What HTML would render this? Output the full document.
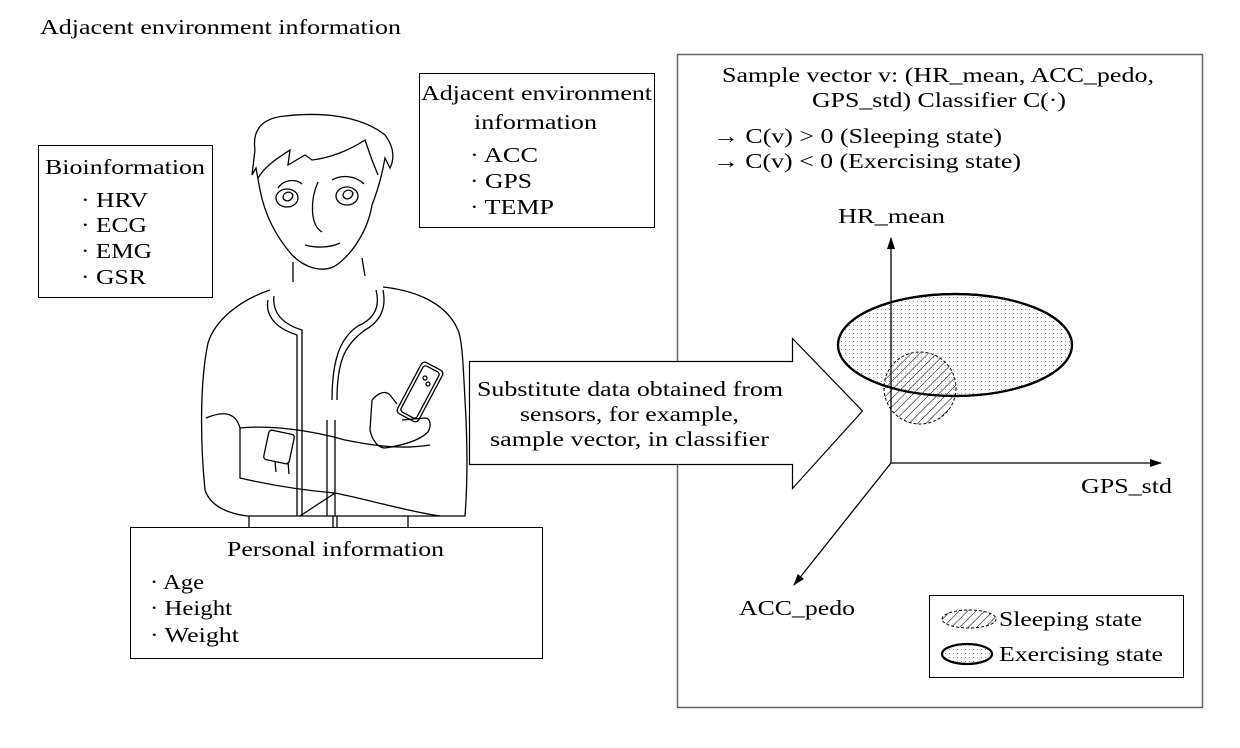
<!DOCTYPE html>
<html><head><style>
body{margin:0;background:#fff;}
svg{display:block;font-family:"Liberation Serif",serif;}
</style></head><body>
<svg width="1240" height="748" viewBox="0 0 1240 748" xmlns="http://www.w3.org/2000/svg">
<defs>
<pattern id="dots" width="4" height="4" patternUnits="userSpaceOnUse"><rect x="1" y="1" width="1" height="1" fill="#999"/></pattern>
<pattern id="hatch" width="6" height="6" patternUnits="userSpaceOnUse" patternTransform="rotate(45)"><line x1="0" y1="0" x2="0" y2="6" stroke="#000" stroke-width="1"/></pattern>
<marker id="ar" markerWidth="12" markerHeight="8" refX="11" refY="4" orient="auto" markerUnits="userSpaceOnUse"><path d="M0,0 L12,4 L0,8 Z" fill="#000"/></marker>
</defs>
<g font-size="21" fill="#000">
<text x="40" y="34" textLength="361" lengthAdjust="spacingAndGlyphs">Adjacent environment information</text>

<!-- Bioinformation box -->
<rect x="38.5" y="145.5" width="174" height="152" fill="#fff" stroke="#000"/>
<text x="45" y="174" textLength="160" lengthAdjust="spacingAndGlyphs">Bioinformation</text>
<text x="81" y="207" textLength="67" lengthAdjust="spacingAndGlyphs">· HRV</text>
<text x="81" y="232" textLength="66" lengthAdjust="spacingAndGlyphs">· ECG</text>
<text x="81" y="258" textLength="71" lengthAdjust="spacingAndGlyphs">· EMG</text>
<text x="81" y="284" textLength="65" lengthAdjust="spacingAndGlyphs">· GSR</text>

<!-- Adjacent env box -->
<rect x="419.5" y="73.5" width="235" height="154" fill="#fff" stroke="#000"/>
<text x="421" y="100" textLength="231" lengthAdjust="spacingAndGlyphs">Adjacent environment</text>
<text x="474" y="129" textLength="123" lengthAdjust="spacingAndGlyphs">information</text>
<text x="470" y="162" textLength="68" lengthAdjust="spacingAndGlyphs">· ACC</text>
<text x="470" y="188" textLength="62" lengthAdjust="spacingAndGlyphs">· GPS</text>
<text x="470" y="214" textLength="84" lengthAdjust="spacingAndGlyphs">· TEMP</text>

<!-- Person -->
<g fill="none" stroke="#000" stroke-width="1.3">
<path d="M255,150 C252,130 262,118 285,116 C320,112 360,115 385,135 C395,148 394,160 390,168 L385,158 C382,175 378,190 372,205 C368,230 352,255 335,266 C322,273 305,268 292,255 C275,235 265,215 260,190 L256,168 L252,175 Z"/>
<path d="M258,178 C266,165 278,158 290,150 L288,165 L305,155 L312,160 C330,158 350,150 365,140 L372,160 L378,175"/>
<path d="M278,188 C283,180 295,178 302,184 M332,180 C342,174 356,176 364,184"/>
<ellipse cx="287" cy="198" rx="11" ry="9"/><ellipse cx="347" cy="196" rx="11" ry="9"/>
<path d="M283,198 C283,192 290,190 293,195 C292,201 286,203 283,198 M343,196 C343,190 350,188 353,193 C352,199 346,201 343,196"/>
<path d="M318,182 C310,200 310,225 322,232 M305,245 C315,248 330,248 340,243"/>
<path d="M293,262 L293,282 M362,258 L365,276"/>
<path d="M270,290 C240,300 215,320 208,343 C200,380 200,440 205,490 C210,505 225,513 247,516 L465,516 C467,490 468,450 465,400 C463,360 462,340 458,330 C445,300 410,290 383,287"/>
<path d="M268,300 C265,315 275,328 297,335 L297,516 M274,296 C272,312 282,324 302,330 L302,516"/>
<path d="M383,290 C386,305 383,320 365,330 C345,345 337,360 337,400 M376,290 C380,305 376,318 358,326 C340,338 332,360 332,400"/>
<path d="M327,420 L327,516 M335,420 L335,516"/>
<path d="M206,418 C220,412 235,410 240,428 M240,428 C270,425 310,430 345,440 C370,445 400,450 430,445 M240,428 L240,478 C270,485 300,490 335,493 C370,500 410,512 440,516 M335,493 L300,516"/>
<rect x="266" y="432" width="26" height="30" rx="3" transform="rotate(12 279 447)"/>
<path d="M275,462 L276,472 M288,462 L289,474"/>
<path d="M372,400 C378,393 385,390 390,395 L397,404 M385,448 C405,445 420,440 428,432 C432,425 430,418 425,418 L402,420 M372,400 L370,430 C372,440 378,448 385,448"/>
<g transform="rotate(28 420 392)"><rect x="408" y="363" width="24" height="58" rx="4"/><rect x="411" y="366" width="18" height="52" rx="3"/></g>
<circle cx="425" cy="378" r="2"/><circle cx="428" cy="384" r="2"/>
<path d="M249,516 L249,527 M333,516 L333,527 M337,516 L337,527 M408,516 L408,527"/>
</g>

<!-- Personal info box -->
<rect x="130.5" y="527.5" width="412" height="131" fill="#fff" stroke="#000"/>
<text x="227" y="556" textLength="217" lengthAdjust="spacingAndGlyphs">Personal information</text>
<text x="150" y="589" textLength="54" lengthAdjust="spacingAndGlyphs">· Age</text>
<text x="150" y="615" textLength="82" lengthAdjust="spacingAndGlyphs">· Height</text>
<text x="150" y="642" textLength="89" lengthAdjust="spacingAndGlyphs">· Weight</text>

<!-- Right panel -->
<rect x="677.5" y="54.5" width="525" height="653" fill="#fff" stroke="#666" stroke-width="1.5"/>
<text x="722" y="82" textLength="432" lengthAdjust="spacingAndGlyphs">Sample vector v: (HR_mean, ACC_pedo,</text>
<text x="812" y="107" textLength="254" lengthAdjust="spacingAndGlyphs">GPS_std) Classifier C(·)</text>
<text x="713" y="143" textLength="289" lengthAdjust="spacingAndGlyphs">→ C(v) &gt; 0 (Sleeping state)</text>
<text x="713" y="168" textLength="308" lengthAdjust="spacingAndGlyphs">→ C(v) &lt; 0 (Exercising state)</text>

<!-- ellipses -->
<ellipse cx="955" cy="345" rx="117" ry="51" fill="url(#dots)" stroke="#000" stroke-width="2.2"/>
<circle cx="920" cy="388" r="36" fill="url(#hatch)" stroke="#000" stroke-dasharray="3,2"/>
<ellipse cx="955" cy="345" rx="117" ry="51" fill="none" stroke="#000" stroke-width="2.2"/>
<!-- axes -->
<line x1="891" y1="463" x2="891" y2="238" stroke="#000" stroke-width="1.3" marker-end="url(#ar)"/>
<line x1="891" y1="463" x2="1161" y2="463" stroke="#000" stroke-width="1.3" marker-end="url(#ar)"/>
<line x1="891" y1="463" x2="794" y2="585" stroke="#000" stroke-width="1.3" marker-end="url(#ar)"/>
<text x="838" y="223" textLength="107" lengthAdjust="spacingAndGlyphs">HR_mean</text>
<text x="1081" y="493" textLength="91" lengthAdjust="spacingAndGlyphs">GPS_std</text>
<text x="739" y="615" textLength="116" lengthAdjust="spacingAndGlyphs">ACC_pedo</text>

<!-- big arrow -->
<path d="M469.5,361.5 L792.5,361.5 L792.5,338.5 L862.5,411 L792.5,488.5 L792.5,464.5 L469.5,464.5 Z" fill="#fff" stroke="#000" stroke-width="1.2"/>
<text x="477" y="396" textLength="306" lengthAdjust="spacingAndGlyphs">Substitute data obtained from</text>
<text x="520" y="421" textLength="219" lengthAdjust="spacingAndGlyphs">sensors, for example,</text>
<text x="490" y="446" textLength="279" lengthAdjust="spacingAndGlyphs">sample vector, in classifier</text>

<!-- legend -->
<rect x="929.5" y="595.5" width="254" height="82" fill="#fff" stroke="#000"/>
<ellipse cx="969" cy="619" rx="27" ry="9" fill="url(#hatch)" stroke="#000" stroke-dasharray="3,2"/>
<text x="999" y="626" textLength="143" lengthAdjust="spacingAndGlyphs">Sleeping state</text>
<ellipse cx="967" cy="654" rx="25" ry="10" fill="url(#dots)" stroke="#000" stroke-width="2.2"/>
<text x="999" y="661" textLength="164" lengthAdjust="spacingAndGlyphs">Exercising state</text>
</g>
</svg>
</body></html>
